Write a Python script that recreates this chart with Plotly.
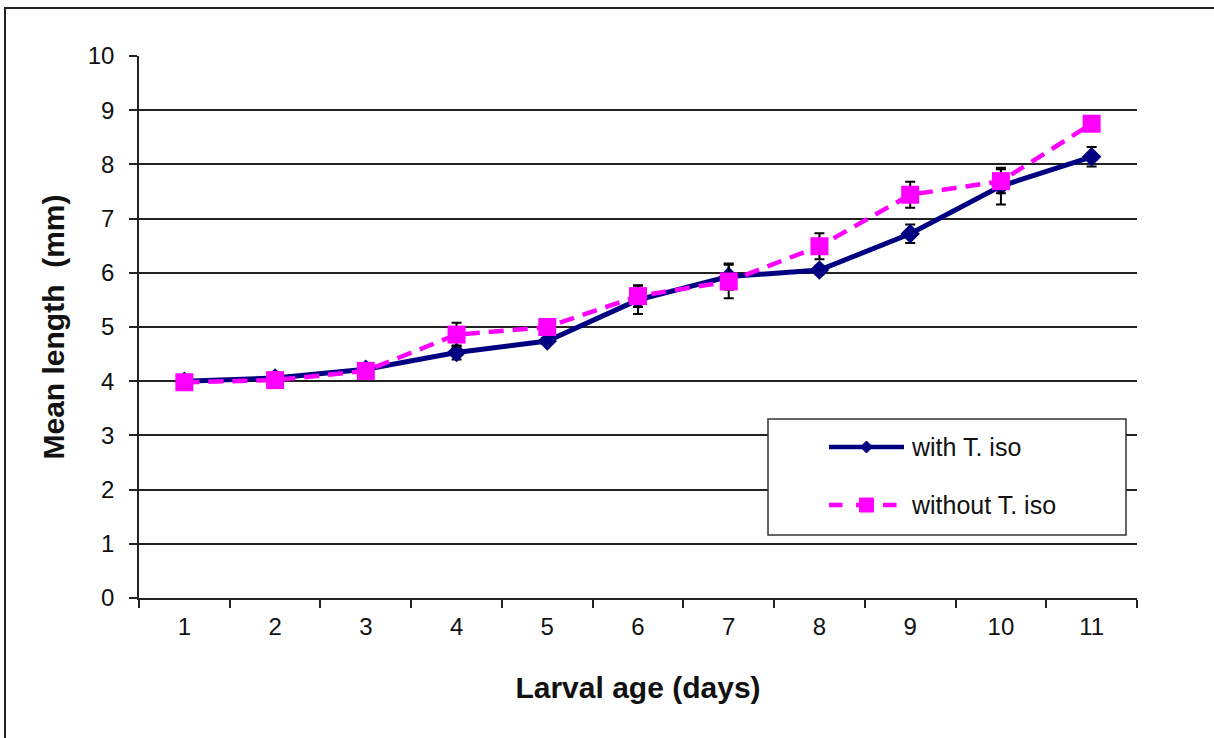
import plotly.graph_objects as go

# Larval age (days) and mean larval length (mm)
days = ["1", "2", "3", "4", "5", "6", "7", "8", "9", "10", "11"]
with_tiso = [4.0, 4.06, 4.22, 4.53, 4.74, 5.5, 5.93, 6.05, 6.72, 7.6, 8.14]
with_tiso_err = [0.03, 0.06, 0.1, 0.13, 0.04, 0.26, 0.24, 0.08, 0.17, 0.34, 0.18]
without_tiso = [3.98, 4.02, 4.19, 4.86, 5.0, 5.57, 5.84, 6.49, 7.44, 7.69, 8.75]
without_tiso_err = [0.03, 0.03, 0.05, 0.22, 0.04, 0.2, 0.31, 0.24, 0.24, 0.22, 0.05]
series_names = ["with T. iso", "without T. iso"]

NAVY = "#000080"
MAGENTA = "#FF00FF"
FONT = "Liberation Sans, Arial, sans-serif"

fig = go.Figure()
fig.add_trace(go.Scatter(
    x=days, y=with_tiso, name=series_names[0], mode="lines+markers",
    line=dict(color=NAVY, width=5),
    marker=dict(symbol="diamond", size=15, color=NAVY),
    error_y=dict(type="data", array=with_tiso_err, color="black", thickness=2, width=5),
    showlegend=False,
))
fig.add_trace(go.Scatter(
    x=days, y=without_tiso, name=series_names[1], mode="lines+markers",
    line=dict(color=MAGENTA, width=4.5, dash="15px,9px"),
    marker=dict(symbol="square", size=18, color=MAGENTA),
    error_y=dict(type="data", array=without_tiso_err, color="black", thickness=2, width=5),
    showlegend=False,
))

W, H = 1214, 738
ml, mr, mt, mb = 139, 77, 56, 140
pw, ph = W - ml - mr, H - mt - mb


def px_x(x):
    return (x - ml) / pw


def px_y(y):
    return (H - mb - y) / ph


shapes = []
annotations = []

# outer chart frame
shapes.append(dict(type="rect", xref="paper", yref="paper",
                   x0=px_x(5), x1=px_x(1225), y0=px_y(750), y1=px_y(8),
                   line=dict(color="#222222", width=2), fillcolor="rgba(0,0,0,0)", layer="below"))

# legend box
lx0, lx1, ly0, ly1 = 768, 1126, 419, 535
shapes.append(dict(type="rect", xref="paper", yref="paper",
                   x0=px_x(lx0), x1=px_x(lx1), y0=px_y(ly1), y1=px_y(ly0),
                   line=dict(color="#333333", width=1.5), fillcolor="white"))

legend_rows = [
    (447, NAVY, "solid", "diamond"),
    (505, MAGENTA, "dash", "square"),
]
for (yy, col, dash, sym), label in zip(legend_rows, series_names):
    shapes.append(dict(type="line", xref="paper", yref="paper",
                       x0=px_x(829), x1=px_x(904), y0=px_y(yy), y1=px_y(yy),
                       line=dict(color=col, width=4.5, dash="dash" if dash == "dash" else "solid")))
    cx = 866.5
    if sym == "diamond":
        d = 6
        shapes.append(dict(type="path", xref="paper", yref="paper",
                           path=(f"M {px_x(cx - d)} {px_y(yy)} L {px_x(cx)} {px_y(yy - d)} "
                                 f"L {px_x(cx + d)} {px_y(yy)} L {px_x(cx)} {px_y(yy + d)} Z"),
                           fillcolor=col, line=dict(color=col, width=1)))
    else:
        d = 7
        shapes.append(dict(type="rect", xref="paper", yref="paper",
                           x0=px_x(cx - d), x1=px_x(cx + d), y0=px_y(yy + d), y1=px_y(yy - d),
                           fillcolor=col, line=dict(color=col, width=1)))
    annotations.append(dict(xref="paper", yref="paper", x=px_x(909), y=px_y(yy),
                            xanchor="left", yanchor="middle", showarrow=False, text=label,
                            font=dict(family=FONT, size=25, color="#111111")))

fig.update_layout(
    width=W, height=H,
    margin=dict(l=ml, r=mr, t=mt, b=mb),
    paper_bgcolor="white", plot_bgcolor="white",
    font=dict(family=FONT, size=24, color="#111111"),
    shapes=shapes, annotations=annotations,
    xaxis=dict(
        type="category", range=[-0.5, 10.5], tickson="boundaries", ticks="outside", ticklen=8,
        tickcolor="#222222", tickwidth=1.5, showline=True, linecolor="#222222", linewidth=1.5,
        showgrid=False, zeroline=False, ticklabelstandoff=6,
        title=dict(text="<b>Larval age (days)</b>", font=dict(family=FONT, size=30), standoff=38),
        tickfont=dict(family=FONT, size=24, color="#111111"),
    ),
    yaxis=dict(
        range=[0, 10], dtick=1, ticks="outside", ticklen=8, tickcolor="#222222", tickwidth=1.5,
        showline=True, linecolor="#222222", linewidth=1.5, ticklabelstandoff=10,
        showgrid=True, gridcolor="#222222", gridwidth=1.5, zeroline=False,
        title=dict(text="<b>Mean length  (mm)</b>", font=dict(family=FONT, size=30), standoff=14),
        tickfont=dict(family=FONT, size=24, color="#111111"),
    ),
)

fig.write_html("out.html")
